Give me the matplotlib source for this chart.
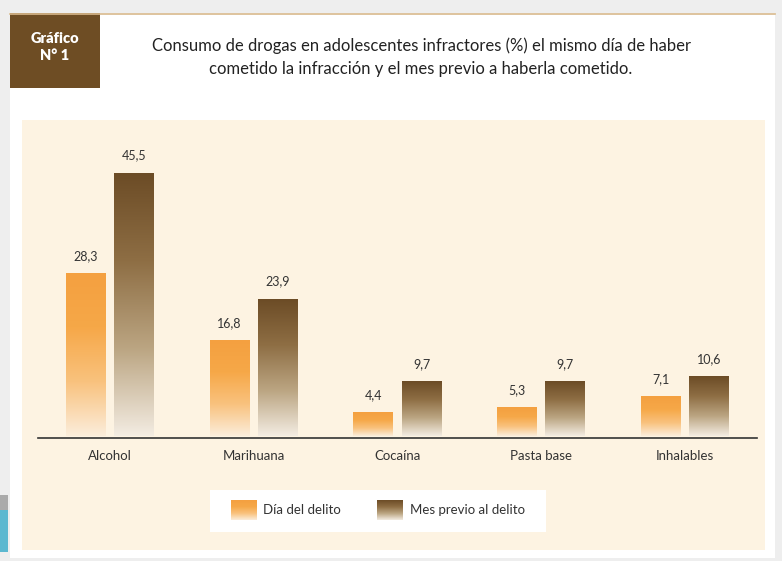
import numpy as np
import matplotlib.pyplot as plt
from matplotlib.patches import Rectangle
from matplotlib.colors import LinearSegmentedColormap

categories = ["Alcohol", "Marihuana", "Cocaína", "Pasta base", "Inhalables"]
dia_delito = [28.3, 16.8, 4.4, 5.3, 7.1]
mes_previo = [45.5, 23.9, 9.7, 9.7, 10.6]
labels_dia = ["28,3", "16,8", "4,4", "5,3", "7,1"]
labels_mes = ["45,5", "23,9", "9,7", "9,7", "10,6"]

plt.rcParams['font.family'] = ['Lato', 'DejaVu Sans']

W, H = 782, 561
fig = plt.figure(figsize=(W / 100, H / 100), dpi=100)
fig.patch.set_facecolor('#EEEEEE')

# background in pixel coords (y down)
bg = fig.add_axes([0, 0, 1, 1])
bg.set_xlim(0, W)
bg.set_ylim(H, 0)
bg.axis('off')

bg.add_patch(Rectangle((10, 13), 765, 545, facecolor='white', edgecolor='none'))
bg.plot([10, 775], [13.5, 13.5], color='#D8B98C', lw=1.2)
bg.add_patch(Rectangle((10, 13), 90, 75, facecolor='#6E4D24', edgecolor='none'))
bg.text(55, 38, "Gráfico", color='white', fontsize=10.5, fontweight='heavy',
        ha='center', va='center')
bg.text(55, 55, "N° 1", color='white', fontsize=10.5, fontweight='heavy',
        ha='center', va='center')
bg.text(421, 46, "Consumo de drogas en adolescentes infractores (%) el mismo día de haber",
        fontsize=12, color='#222222', ha='center', va='center')
bg.text(421, 69, "cometido la infracción y el mes previo a haberla cometido.",
        fontsize=12, color='#222222', ha='center', va='center')

bg.add_patch(Rectangle((22, 120), 743, 430, facecolor='#FDF3E2', edgecolor='none'))
# small side decoration
bg.add_patch(Rectangle((0, 495), 8, 15, facecolor='#AAAAAA', edgecolor='none'))
bg.add_patch(Rectangle((0, 510), 8, 42, facecolor='#5BB8D0', edgecolor='none'))

orange_cmap = LinearSegmentedColormap.from_list(
    'orange', ['#FBEDDB', '#F9C27E', '#F6A848', '#F4A040'])
brown_cmap = LinearSegmentedColormap.from_list(
    'brown', ['#F3ECE2', '#BBA582', '#8E6E44', '#6C4C26'])
grad = np.linspace(0, 1, 256).reshape(-1, 1)

# legend
bg.add_patch(Rectangle((210, 490), 336, 42, facecolor='white', edgecolor='none'))
bg.imshow(grad, cmap=orange_cmap, extent=[231, 257, 520, 500], origin='lower',
          aspect='auto', zorder=3)
bg.text(263, 510, "Día del delito", fontsize=9.5, color='#333333', va='center')
bg.imshow(grad, cmap=brown_cmap, extent=[377, 403, 520, 500], origin='lower',
          aspect='auto', zorder=3)
bg.text(410, 510, "Mes previo al delito", fontsize=9.5, color='#333333', va='center')
bg.set_xlim(0, W)
bg.set_ylim(H, 0)

# main chart axes
ax = fig.add_axes([38 / W, (H - 438) / H, (757 - 38) / W, 318 / H])
ax.patch.set_alpha(0)
x = np.arange(len(categories))
bw = 0.278
off = 0.167
b1 = ax.bar(x - off, dia_delito, bw, color='none')
b2 = ax.bar(x + off, mes_previo, bw, color='none')
for bars, cmap, labs in [(b1, orange_cmap, labels_dia), (b2, brown_cmap, labels_mes)]:
    for rect, lab in zip(bars, labs):
        x0 = rect.get_x()
        h = rect.get_height()
        ax.imshow(grad, cmap=cmap, origin='lower', aspect='auto',
                  extent=[x0, x0 + rect.get_width(), 0.4, h])
        ax.text(x0 + rect.get_width() / 2, h + 3.0, lab, ha='center',
                va='center', fontsize=9, color='#333333')

ax.set_xlim(-0.5, 4.5)
ax.set_ylim(0, 54.6)
ax.set_xticks(x)
ax.set_xticklabels(categories, fontsize=9.5, color='#333333')
ax.tick_params(axis='x', length=0, pad=9)
ax.set_yticks([])
for s in ['top', 'right', 'left']:
    ax.spines[s].set_visible(False)
ax.spines['bottom'].set_color('#333333')
ax.spines['bottom'].set_linewidth(1.2)

fig.savefig('out.png', dpi=100)
